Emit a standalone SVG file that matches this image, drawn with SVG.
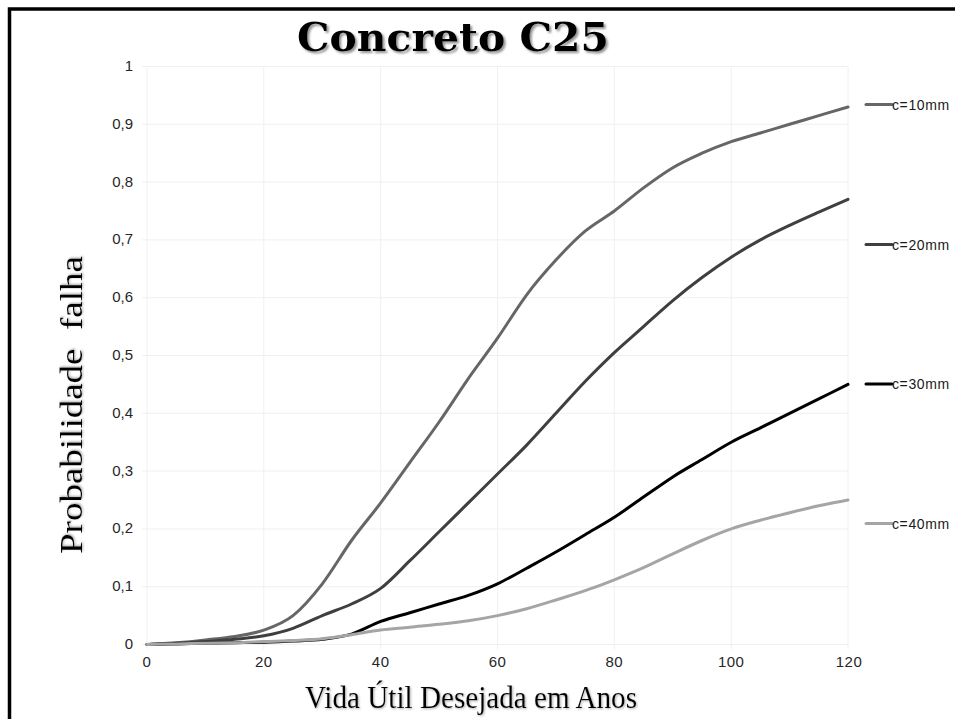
<svg xmlns="http://www.w3.org/2000/svg" width="955" height="719" viewBox="0 0 955 719">
<style>
.grid{stroke:#f0f0f0;stroke-width:1;fill:none}
.tick{font-family:"Liberation Sans",Arial,sans-serif;font-size:15px;fill:#262626}
.ytick{text-anchor:end}
.xtick{text-anchor:middle;letter-spacing:0.5px}
.curve{fill:none;stroke-width:3;stroke-linecap:round;stroke-linejoin:round}
.leg{font-family:"Liberation Sans",Arial,sans-serif;font-size:14px;fill:#1a1a1a;letter-spacing:0.6px}
.axlab{font-family:"Liberation Serif","DejaVu Serif",serif;font-size:32px;fill:#000}
.c10{stroke:#666666}.c20{stroke:#3f3f3f}.c30{stroke:#000000}.c40{stroke:#a5a5a5}
</style>
<defs>
<filter id="shadow" x="-10%" y="-30%" width="120%" height="160%">
<feDropShadow dx="2" dy="2" stdDeviation="1.2" flood-color="#777" flood-opacity="0.8"/>
</filter>
<filter id="shadowS" x="-10%" y="-30%" width="120%" height="160%">
<feDropShadow dx="1" dy="1" stdDeviation="0.8" flood-color="#888" flood-opacity="0.7"/>
</filter>
</defs>
<rect x="0" y="0" width="955" height="719" fill="#fff"/>
<rect id="frame" x="9.5" y="9" width="960" height="730" fill="none" stroke="#000" stroke-width="3.5"/>
<g id="title">
<text x="453" y="51" text-anchor="middle" font-family="'DejaVu Serif','Liberation Serif',serif" font-weight="bold" font-size="40" textLength="312" lengthAdjust="spacingAndGlyphs" filter="url(#shadow)">Concreto C25</text>
</g>
<g id="gridlines" class="grid">
<line x1="142" y1="644.5" x2="848" y2="644.5"/>
<line x1="142" y1="586.7" x2="848" y2="586.7"/>
<line x1="142" y1="528.9" x2="848" y2="528.9"/>
<line x1="142" y1="471.1" x2="848" y2="471.1"/>
<line x1="142" y1="413.3" x2="848" y2="413.3"/>
<line x1="142" y1="355.5" x2="848" y2="355.5"/>
<line x1="142" y1="297.7" x2="848" y2="297.7"/>
<line x1="142" y1="239.9" x2="848" y2="239.9"/>
<line x1="142" y1="182.1" x2="848" y2="182.1"/>
<line x1="142" y1="124.3" x2="848" y2="124.3"/>
<line x1="142" y1="66.5" x2="848" y2="66.5"/>
<line x1="147" y1="66.5" x2="147" y2="649.5"/>
<line x1="263.8" y1="66.5" x2="263.8" y2="649.5"/>
<line x1="380.7" y1="66.5" x2="380.7" y2="649.5"/>
<line x1="497.5" y1="66.5" x2="497.5" y2="649.5"/>
<line x1="614.3" y1="66.5" x2="614.3" y2="649.5"/>
<line x1="731.2" y1="66.5" x2="731.2" y2="649.5"/>
<line x1="848" y1="66.5" x2="848" y2="649.5"/>
</g>
<g id="y-ticks" class="tick ytick">
<text x="133" y="649">0</text>
<text x="133" y="591.2">0,1</text>
<text x="133" y="533.4">0,2</text>
<text x="133" y="475.6">0,3</text>
<text x="133" y="417.8">0,4</text>
<text x="133" y="360">0,5</text>
<text x="133" y="302.2">0,6</text>
<text x="133" y="244.4">0,7</text>
<text x="133" y="186.6">0,8</text>
<text x="133" y="128.8">0,9</text>
<text x="133" y="71">1</text>
</g>
<g id="x-ticks" class="tick xtick">
<text x="147" y="667">0</text>
<text x="263.8" y="667">20</text>
<text x="380.7" y="667">40</text>
<text x="497.5" y="667">60</text>
<text x="614.3" y="667">80</text>
<text x="731.2" y="667">100</text>
<text x="849" y="667">120</text>
</g>
<g id="axis-titles">
<text class="axlab" x="471" y="708" text-anchor="middle" textLength="332" lengthAdjust="spacingAndGlyphs" filter="url(#shadowS)">Vida Útil Desejada em Anos</text>
<text class="axlab" transform="translate(82,405) rotate(-90)" x="0" y="0" text-anchor="middle" textLength="298" lengthAdjust="spacingAndGlyphs" filter="url(#shadowS)" xml:space="preserve">Probabilidade  falha</text>
</g>
<g id="series">
<path id="series-c10" class="curve c10" d="M147,644.5 C151.9,644.2 166.5,643.6 176.2,642.8 S195.7,641.0 205.4,639.9 S224.9,638.0 234.6,636.4 S254.1,633.6 263.8,630.1 S283.3,623.3 293.0,615.6 S312.6,596.3 322.3,583.8 S341.8,554.0 351.5,540.5 S371.0,515.9 380.7,502.9 S400.2,475.9 409.9,462.4 S429.4,436.0 439.1,422.0 S458.6,392.6 468.3,378.6 S487.8,352.2 497.5,338.2 S517.0,307.8 526.7,294.8 S546.2,270.7 555.9,260.1 S575.4,239.4 585.1,231.2 S604.6,218.2 614.3,211.0 S633.8,195.1 643.5,187.9 S663.1,173.5 672.8,167.7 S692.3,157.6 702.0,153.2 S721.5,145.0 731.2,141.6 S750.7,135.9 760.4,133.0 S779.9,127.2 789.6,124.3 S809.1,118.5 818.8,115.6 S843.1,108.4 848.0,107.0"/>
<path id="series-c20" class="curve c20" d="M147,644.5 C151.9,644.3 166.5,643.8 176.2,643.3 S195.7,642.3 205.4,641.6 S224.9,640.3 234.6,639.3 S254.1,637.6 263.8,635.8 S283.3,631.7 293.0,628.3 S312.6,619.7 322.3,615.6 S341.8,608.5 351.5,604.0 S371.0,595.6 380.7,588.4 S400.2,570.1 409.9,560.7 S429.4,541.4 439.1,531.8 S458.6,512.5 468.3,502.9 S487.8,483.6 497.5,474.0 S517.0,455.2 526.7,445.1 S546.2,423.9 555.9,413.3 S575.4,391.6 585.1,381.5 S604.6,361.8 614.3,352.6 S633.8,335.3 643.5,326.6 S663.1,308.8 672.8,300.6 S692.3,284.7 702.0,277.5 S721.5,263.5 731.2,257.2 S750.7,245.2 760.4,239.9 S779.9,230.0 789.6,225.4 S809.1,216.5 818.8,212.2 S843.1,201.5 848.0,199.4"/>
<path id="series-c30" class="curve c30" d="M147,644.5 C151.9,644.4 166.5,644.1 176.2,643.9 S195.7,643.5 205.4,643.3 S224.9,643.0 234.6,642.8 S254.1,642.5 263.8,642.2 S283.3,641.5 293.0,641.0 S312.6,640.5 322.3,639.3 S341.8,637.1 351.5,634.1 S371.0,625.0 380.7,621.4 S400.2,615.6 409.9,612.7 S429.4,606.9 439.1,604.0 S458.6,598.8 468.3,595.4 S487.8,588.3 497.5,583.8 S517.0,573.5 526.7,568.2 S546.2,557.6 555.9,552.0 S575.4,540.5 585.1,534.7 S604.6,523.6 614.3,517.3 S633.8,503.8 643.5,497.1 S663.1,483.2 672.8,476.9 S692.3,465.3 702.0,459.5 S721.5,447.5 731.2,442.2 S750.7,432.6 760.4,427.8 S779.9,418.1 789.6,413.3 S809.1,403.7 818.8,398.9 S843.1,386.8 848.0,384.4"/>
<path id="series-c40" class="curve c40" d="M147,644.5 C151.9,644.4 166.5,644.1 176.2,643.9 S195.7,643.5 205.4,643.3 S224.9,643.1 234.6,642.8 S254.1,642.0 263.8,641.6 S283.3,641.0 293.0,640.5 S312.6,639.7 322.3,638.7 S341.8,636.2 351.5,634.7 S371.0,631.3 380.7,630.0 S400.2,628.2 409.9,627.2 S429.4,625.4 439.1,624.3 S458.6,622.3 468.3,620.8 S487.8,617.6 497.5,615.6 S517.0,611.3 526.7,608.7 S546.2,603.0 555.9,600.0 S575.4,594.1 585.1,590.7 S604.6,583.7 614.3,579.8 S633.8,571.9 643.5,567.6 S663.1,558.3 672.8,553.8 S692.3,544.7 702.0,540.5 S721.5,532.3 731.2,528.9 S750.7,522.9 760.4,520.2 S779.9,515.1 789.6,512.7 S809.1,507.9 818.8,505.8 S843.1,501.0 848.0,500.0"/>
</g>
<g id="legend">
<g id="legend-c10"><line class="curve c10" x1="866" y1="104.5" x2="892" y2="104.5" stroke-linecap="butt"/><text class="leg" x="892" y="109.5">c=10mm</text></g>
<g id="legend-c20"><line class="curve c20" x1="866" y1="244.5" x2="892" y2="244.5" stroke-linecap="butt"/><text class="leg" x="892" y="249.5">c=20mm</text></g>
<g id="legend-c30"><line class="curve c30" x1="866" y1="384" x2="892" y2="384" stroke-linecap="butt"/><text class="leg" x="892" y="389">c=30mm</text></g>
<g id="legend-c40"><line class="curve c40" x1="866" y1="523.5" x2="892" y2="523.5" stroke-linecap="butt"/><text class="leg" x="892" y="528.5">c=40mm</text></g>
</g>
</svg>
